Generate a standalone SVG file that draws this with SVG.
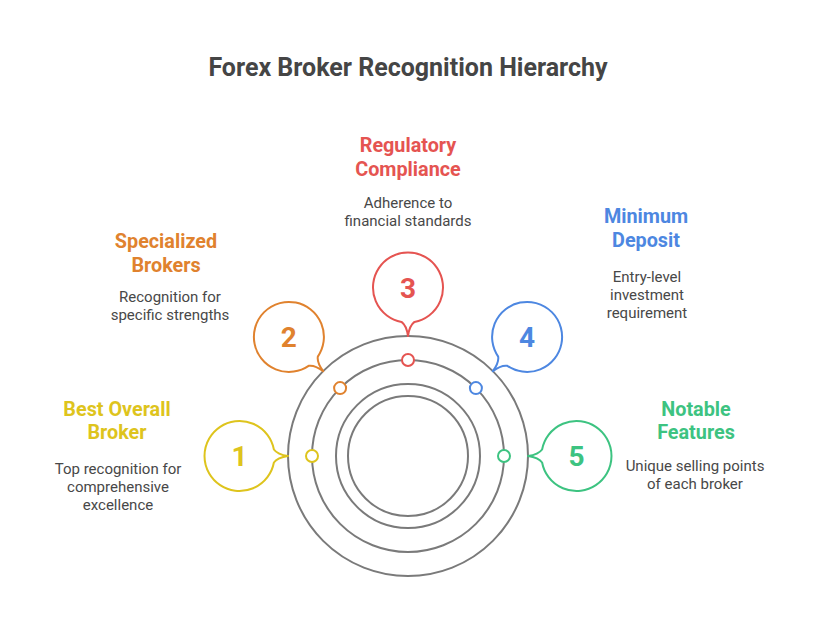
<svg xmlns="http://www.w3.org/2000/svg" xmlns:xlink="http://www.w3.org/1999/xlink" width="816" height="637" viewBox="0 0 816 637">
<style>
.title{font-family:Roboto,"Liberation Sans",sans-serif;font-weight:bold;font-size:25px;fill:#454545;text-anchor:middle}
.head{font-family:Roboto,"Liberation Sans",sans-serif;font-weight:bold;font-size:19.8px;text-anchor:middle}
.desc{font-family:Roboto,"Liberation Sans",sans-serif;font-size:15px;fill:#484848;text-anchor:middle}
.num{font-family:Roboto,"Liberation Sans",sans-serif;font-weight:bold;font-size:28px;text-anchor:middle}
.ring{fill:none;stroke:#7a7a7a;stroke-width:2}
.bub{fill:#fff;stroke-width:2;stroke-linejoin:round}
.dot{fill:#fff;stroke-width:2}
</style>
<defs>
<path id="bubble" d="M -6.5 34.4 Q -1.5 38 0 48.5 Q 1.5 38 6.5 34.4 A 35 35 0 1 0 -6.5 34.4 Z"/>
</defs>
<rect width="816" height="637" fill="#fff"/>
<text class="title" x="408" y="76">Forex Broker Recognition Hierarchy</text>
<g id="rings">
<circle class="ring" cx="408" cy="456" r="120"/>
<circle class="ring" cx="408" cy="456" r="96"/>
<circle class="ring" cx="408" cy="456" r="72"/>
<circle class="ring" cx="408" cy="456" r="60"/>
</g>
<g id="node1" stroke="#DEC41D">
<use xlink:href="#bubble" class="bub" transform="translate(239.5,456) rotate(-90)"/>
<circle class="dot" cx="312" cy="456" r="6"/>
<text class="num" x="239.5" y="466" fill="#DEC41D" stroke="none">1</text>
<text class="head" x="117" y="415.5" fill="#DEC41D" stroke="none">Best Overall</text>
<text class="head" x="117" y="439" fill="#DEC41D" stroke="none">Broker</text>
<text class="desc" x="118" y="473.5" stroke="none">Top recognition for</text>
<text class="desc" x="118" y="491.5" stroke="none">comprehensive</text>
<text class="desc" x="118" y="509.5" stroke="none">excellence</text>
</g>
<g id="node2" stroke="#E0822E">
<use xlink:href="#bubble" class="bub" transform="translate(288.9,336.9) rotate(-45)"/>
<circle class="dot" cx="340.1" cy="388.1" r="6"/>
<text class="num" x="288.9" y="346.9" fill="#E0822E" stroke="none">2</text>
<text class="head" x="166" y="247.5" fill="#E0822E" stroke="none">Specialized</text>
<text class="head" x="166" y="271.5" fill="#E0822E" stroke="none">Brokers</text>
<text class="desc" x="170" y="302" stroke="none">Recognition for</text>
<text class="desc" x="170" y="320" stroke="none">specific strengths</text>
</g>
<g id="node3" stroke="#E55451">
<use xlink:href="#bubble" class="bub" transform="translate(408,287.5)"/>
<circle class="dot" cx="408" cy="360" r="6"/>
<text class="num" x="408" y="297.5" fill="#E55451" stroke="none">3</text>
<text class="head" x="408" y="152" fill="#E55451" stroke="none">Regulatory</text>
<text class="head" x="408" y="176" fill="#E55451" stroke="none">Compliance</text>
<text class="desc" x="408" y="207.5" stroke="none">Adherence to</text>
<text class="desc" x="408" y="225.5" stroke="none">financial standards</text>
</g>
<g id="node4" stroke="#4D87E1">
<use xlink:href="#bubble" class="bub" transform="translate(527.1,336.9) rotate(45)"/>
<circle class="dot" cx="475.9" cy="388.1" r="6"/>
<text class="num" x="527.1" y="346.9" fill="#4D87E1" stroke="none">4</text>
<text class="head" x="646" y="223" fill="#4D87E1" stroke="none">Minimum</text>
<text class="head" x="646" y="247" fill="#4D87E1" stroke="none">Deposit</text>
<text class="desc" x="647" y="282" stroke="none">Entry-level</text>
<text class="desc" x="647" y="300" stroke="none">investment</text>
<text class="desc" x="647" y="318" stroke="none">requirement</text>
</g>
<g id="node5" stroke="#3DC381">
<use xlink:href="#bubble" class="bub" transform="translate(576.5,456) rotate(90)"/>
<circle class="dot" cx="504" cy="456" r="6"/>
<text class="num" x="576.5" y="466" fill="#3DC381" stroke="none">5</text>
<text class="head" x="696" y="415.5" fill="#3DC381" stroke="none">Notable</text>
<text class="head" x="696" y="439" fill="#3DC381" stroke="none">Features</text>
<text class="desc" x="695" y="470.5" stroke="none">Unique selling points</text>
<text class="desc" x="695" y="488.5" stroke="none">of each broker</text>
</g>
</svg>
